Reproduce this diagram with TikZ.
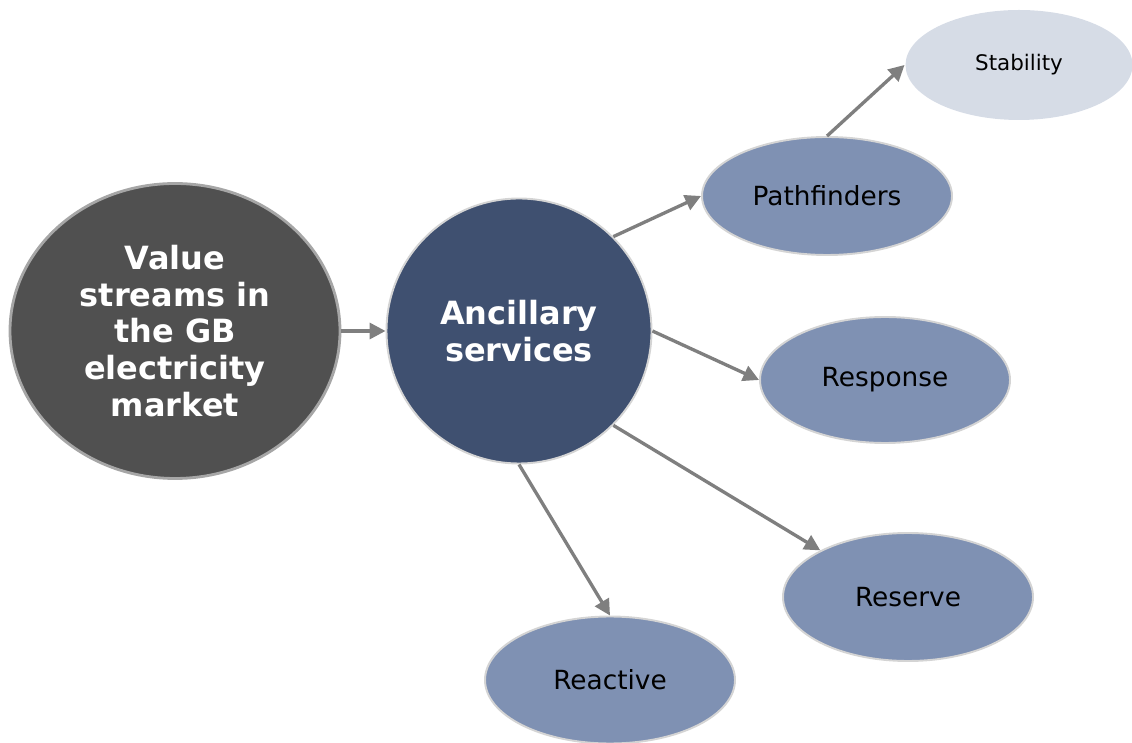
\documentclass[tikz,border=0pt]{standalone}
\usepackage{fontspec}
\setmainfont{DejaVu Sans}
\usetikzlibrary{arrows.meta,shapes.geometric}

\definecolor{rootgray}{HTML}{505050}
\definecolor{ancblue}{HTML}{3F5070}
\definecolor{leafblue}{HTML}{7F91B3}
\definecolor{paleblue}{HTML}{D6DCE6}
\definecolor{rimgray}{HTML}{D4D4D4}
\definecolor{arrowgray}{HTML}{7F7F7F}

\begin{document}
\begin{tikzpicture}[
  hub/.style={
    ellipse, inner sep=0pt, align=center, text=white,
    font=\fontsize{18.2}{21}\selectfont\bfseries
  },
  root/.style={hub, fill=rootgray, draw=black!35, line width=1.6pt,
    minimum width=6.6cm, minimum height=5.9cm},
  anc/.style={hub, fill=ancblue, draw=rimgray, line width=1.1pt,
    minimum width=5.3cm, minimum height=5.3cm},
  leaf/.style={
    ellipse, inner sep=0pt, fill=leafblue, draw=rimgray, line width=1.1pt,
    minimum width=5cm, minimum height=2.52cm,
    font=\fontsize{15}{17}\selectfont
  },
  pale/.style={leaf, fill=paleblue, draw=none,
    minimum width=4.54cm, minimum height=2.2cm,
    font=\fontsize{12.2}{14}\selectfont},
  arrow/.style={-{Triangle[length=9pt,width=9pt]}, arrowgray, line width=1.9pt},
]
\useasboundingbox (0,0) rectangle (22.64,14.84);

% Centre of the diagram
\node[root] (value) at (3.5, 8.22)
  {Value\\streams in\\the GB\\electricity\\market};
\node[anc] (ancillary) at (10.38, 8.22) {Ancillary\\services};

% Service types
\node[leaf, minimum height=2.36cm] (pathfinders) at (16.54, 10.92) {Pathfinders};
\node[pale] (stability) at (20.38, 13.54) {Stability};
\node[leaf] (response) at (17.7, 7.24) {Response};
\node[leaf, minimum height=2.56cm] (reserve) at (18.16, 2.9) {Reserve};
\node[leaf, minimum height=2.54cm] (reactive) at (12.2, 1.24) {Reactive};

% Links
\draw[arrow] (value.east) -- (ancillary.west);
\draw[arrow] (ancillary.45) -- (pathfinders.west);
\draw[arrow] (ancillary.east) -- (response.west);
\draw[arrow] (ancillary.-45) -- (reserve.152);
\draw[arrow] (ancillary.south) -- (reactive.north);
\draw[arrow] (pathfinders.north) -- (stability.west);

\end{tikzpicture}
\end{document}
